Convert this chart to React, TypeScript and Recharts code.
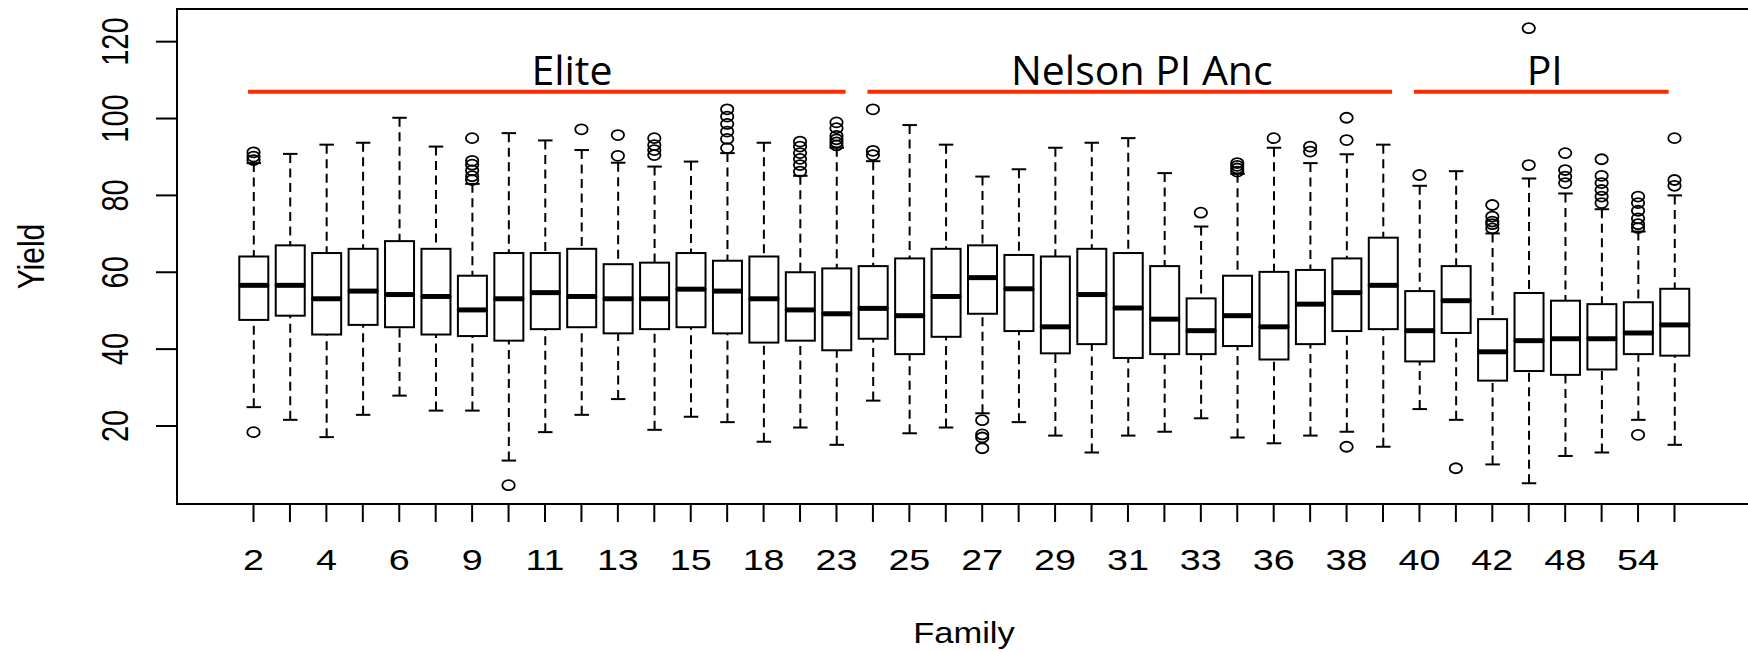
import React from 'react';
import {
  ComposedChart,
  Bar,
  Scatter,
  XAxis,
  YAxis,
  ReferenceLine,
  ReferenceArea,
  ReferenceDot,
  Label,
} from 'recharts';

// ---------- data ----------
const families = [
  '2', '3', '4', '5', '6', '8', '9', '10', '11', '12', '13', '14', '15', '16', '18', '20', '23',
  '24', '25', '26', '27', '28', '29', '30', '31', '32', '33', '35', '36', '37', '38', '39',
  '40', '41', '42', '44', '48', '50', '54', '56',
];

const whiskerLow = [
  24.9, 21.6, 17.1, 22.9, 27.9, 24.0, 24.0, 11.0, 18.4, 22.9, 27.0, 19.0, 22.4, 21.0, 15.9, 19.6, 15.1,
  26.6, 18.1, 19.6, 23.3, 21.0, 17.5, 13.1, 17.5, 18.5, 22.0, 17.0, 15.5, 17.5, 18.5, 14.6,
  24.4, 21.6, 10.0, 5.1, 12.2, 13.1, 21.6, 15.1,
];
const q1 = [
  47.6, 48.7, 43.8, 46.3, 45.7, 43.8, 43.4, 42.2, 45.2, 45.7, 44.1, 45.2, 45.7, 44.1, 41.7, 42.2, 39.7,
  42.7, 38.7, 43.2, 49.2, 44.7, 38.9, 41.3, 37.7, 38.7, 38.7, 40.8, 37.3, 41.3, 44.7, 45.2,
  36.8, 44.2, 31.8, 34.3, 33.3, 34.7, 38.7, 38.3,
];
const median = [
  56.6, 56.6, 53.1, 55.1, 54.2, 53.7, 50.2, 53.1, 54.7, 53.7, 53.1, 53.1, 55.6, 55.1, 53.1, 50.2, 49.2,
  50.6, 48.7, 53.7, 58.6, 55.7, 45.8, 54.2, 50.7, 47.8, 44.8, 48.7, 45.8, 51.7, 54.7, 56.6,
  44.8, 52.6, 39.3, 42.2, 42.7, 42.7, 44.2, 46.3,
];
const q3 = [
  64.1, 67.0, 65.0, 66.1, 68.1, 66.1, 59.1, 65.0, 65.0, 66.1, 62.1, 62.5, 65.0, 63.0, 64.1, 60.0, 61.0,
  61.6, 63.6, 66.1, 67.0, 64.5, 64.1, 66.1, 65.0, 61.6, 53.2, 59.1, 60.1, 60.6, 63.6, 69.0,
  55.1, 61.6, 47.8, 54.6, 52.6, 51.7, 52.2, 55.7,
];
const whiskerHigh = [
  88.4, 90.8, 93.2, 93.7, 100.2, 92.7, 83.0, 96.2, 94.3, 91.8, 88.5, 87.5, 88.8, 91.0, 93.7, 85.1, 92.4,
  88.9, 98.3, 93.2, 84.9, 86.8, 92.4, 93.7, 94.9, 85.8, 71.9, 85.6, 92.4, 88.4, 90.7, 93.2,
  82.5, 86.3, 70.1, 84.4, 80.5, 76.4, 70.6, 80.0,
];
const outliers: number[][] = [
  [18.4, 89.2, 90.1, 91.2],
  [],
  [],
  [],
  [],
  [],
  [84.0, 85.0, 86.5, 88.0, 89.0, 94.9],
  [4.6],
  [],
  [97.2],
  [90.3, 95.7],
  [90.5, 91.8, 93.1, 94.9],
  [],
  [92.3, 94.7, 96.6, 98.6, 100.5, 102.4],
  [],
  [86.2, 87.9, 89.5, 91.0, 92.7, 94.0],
  [93.0, 93.8, 94.6, 95.5, 97.5, 99.0],
  [90.5, 91.6, 102.4],
  [],
  [],
  [21.5, 17.8, 17.0, 14.2],
  [],
  [],
  [],
  [],
  [],
  [75.5],
  [86.2, 87.0, 87.7, 88.4],
  [94.9],
  [91.4, 92.7],
  [14.6, 94.4, 100.2],
  [],
  [85.3],
  [9.0],
  [71.4, 72.5, 73.2, 74.5, 77.5],
  [87.9, 123.5],
  [83.2, 84.9, 86.6, 91.0],
  [78.0, 79.7, 81.4, 83.2, 85.1, 89.4],
  [17.7, 71.5, 72.5, 74.0, 76.0, 78.0, 79.7],
  [82.5, 84.0, 94.9],
];

const yTicks = [20, 40, 60, 80, 100, 120];

const groupNames = ['Elite', 'Nelson PI Anc', 'PI'];
const groupLineStart = [0.85, 17.85, 32.85];
const groupLineEnd = [17.25, 32.25, 39.84];
const groupLabelCenter = [9.74, 25.38, 36.44];
const groupLevel = 107;

// ---------- derived tables ----------
const positions = families.map((_, i) => i + 1);

const boxData = families.map((f, i) => ({
  pos: positions[i],
  family: f,
  base: whiskerLow[i],
  lowW: q1[i] - whiskerLow[i],
  lowBox: median[i] - q1[i],
  upBox: q3[i] - median[i],
  upW: whiskerHigh[i] - q3[i],
}));

const outlierData = outliers.flatMap((arr, i) => arr.map((v) => ({ pos: positions[i], v })));

// ---------- styles ----------
const INK = '#000';
const RED = '#ff2a00';
const DASH = '9 5.5';
const X_DOMAIN: [number, number] = [-1.1, 42.1];
const Y_DOMAIN: [number, number] = [-0.3, 128.5];
const STRETCH = 1.3;

// ---------- shapes ----------
const LowerWhisker = (p: any) => {
  const { x, y, width, height } = p;
  if (height == null) return null;
  const cx = x + width / 2;
  const bottom = y + height;
  return (
    <g>
      <line x1={cx} x2={cx} y1={bottom} y2={y} stroke={INK} strokeWidth={2} strokeDasharray={DASH} />
      <line x1={cx - width / 4} x2={cx + width / 4} y1={bottom} y2={bottom} stroke={INK} strokeWidth={2} />
    </g>
  );
};

const UpperWhisker = (p: any) => {
  const { x, y, width, height } = p;
  if (height == null) return null;
  const cx = x + width / 2;
  return (
    <g>
      <line x1={cx} x2={cx} y1={y} y2={y + height} stroke={INK} strokeWidth={2} strokeDasharray={DASH} />
      <line x1={cx - width / 4} x2={cx + width / 4} y1={y} y2={y} stroke={INK} strokeWidth={2} />
    </g>
  );
};

const LowerBox = (p: any) => {
  const { x, y, width, height } = p;
  if (height == null) return null;
  return <rect x={x} y={y} width={width} height={height} fill="none" stroke={INK} strokeWidth={2} />;
};

const UpperBox = (p: any) => {
  const { x, y, width, height } = p;
  if (height == null) return null;
  const bottom = y + height;
  return (
    <g>
      <rect x={x} y={y} width={width} height={height} fill="none" stroke={INK} strokeWidth={2} />
      <line x1={x} x2={x + width} y1={bottom} y2={bottom} stroke={INK} strokeWidth={5} />
    </g>
  );
};

const Outlier = (p: any) => {
  const { cx, cy } = p;
  if (cx == null || cy == null) return null;
  return <ellipse cx={cx} cy={cy} rx={6.2} ry={5} fill="none" stroke={INK} strokeWidth={1.8} />;
};

// ---------- ticks & labels ----------
const XTick = (p: any) => {
  const { x, y, payload, index } = p;
  if (index % 2 !== 0) return null;
  const label = families[payload.value - 1];
  if (label == null) return null;
  return (
    <text
      transform={`translate(${x},${y + 48}) scale(${STRETCH},1)`}
      textAnchor="middle"
      fontFamily="'Liberation Sans', Arial, sans-serif"
      fontSize={29}
      fill={INK}
    >
      {label}
    </text>
  );
};

const YTick = (p: any) => {
  const { x, y, payload } = p;
  return (
    <text
      transform={`translate(${x - 28},${y}) scale(${STRETCH},1) rotate(-90)`}
      textAnchor="middle"
      fontFamily="'Liberation Sans', Arial, sans-serif"
      fontSize={29}
      fill={INK}
    >
      {payload.value}
    </text>
  );
};

const YieldTitle = (p: any) => {
  const vb = p.viewBox || {};
  const cx = (vb.x ?? 0) + 44;
  const cy = (vb.y ?? 0) + (vb.height ?? 0) / 2;
  return (
    <text
      transform={`translate(${cx},${cy}) scale(1.25,1) rotate(-90)`}
      textAnchor="middle"
      fontFamily="'Liberation Sans', Arial, sans-serif"
      fontSize={30}
      fill={INK}
    >
      Yield
    </text>
  );
};

const FamilyTitle = (p: any) => {
  const vb = p.viewBox || {};
  const cx = (vb.x ?? 0) + (vb.width ?? 0) / 2;
  const by = (vb.y ?? 0) + 139;
  return (
    <text
      transform={`translate(${cx},${by}) scale(1.15,1)`}
      textAnchor="middle"
      fontFamily="'Liberation Sans', Arial, sans-serif"
      fontSize={30}
      fill={INK}
    >
      Family
    </text>
  );
};

const GroupText = (name: string) => (p: any) => {
  const { cx, cy } = p;
  if (cx == null || cy == null) return null;
  return (
    <text
      x={cx}
      y={cy - 7}
      textAnchor="middle"
      fontFamily="'Open Sans', sans-serif"
      fontSize={41}
      fill={INK}
    >
      {name}
    </text>
  );
};

export default function App() {
  return (
    <div
      style={{
        position: 'absolute',
        left: 0,
        top: 0,
        width: 1748,
        height: 652,
        overflow: 'hidden',
        background: '#fff',
      }}
    >
      <ComposedChart
        width={1770}
        height={652}
        data={boxData}
        margin={{ top: 9, right: 19, bottom: 0, left: 0 }}
      >
        <XAxis
          type="number"
          dataKey="pos"
          domain={X_DOMAIN}
          allowDataOverflow
          ticks={positions}
          interval={0}
          tickSize={18}
          tickMargin={0}
          axisLine={false}
          tickLine={{ stroke: INK, strokeWidth: 2 }}
          tick={<XTick />}
          height={148}
        >
          <Label content={<FamilyTitle />} />
        </XAxis>
        <YAxis
          type="number"
          domain={Y_DOMAIN}
          allowDataOverflow
          ticks={yTicks}
          interval={0}
          tickSize={21}
          tickMargin={0}
          axisLine={false}
          tickLine={{ stroke: INK, strokeWidth: 2 }}
          tick={<YTick />}
          width={177}
        >
          <Label content={<YieldTitle />} />
        </YAxis>

        <ReferenceArea
          x1={X_DOMAIN[0]}
          x2={X_DOMAIN[1]}
          y1={Y_DOMAIN[0]}
          y2={Y_DOMAIN[1]}
          fill="none"
          fillOpacity={0}
          stroke={INK}
          strokeWidth={2}
          ifOverflow="visible"
        />

        <Bar dataKey="base" stackId="box" fill="none" barSize={29} isAnimationActive={false} />
        <Bar dataKey="lowW" stackId="box" shape={<LowerWhisker />} barSize={29} isAnimationActive={false} />
        <Bar dataKey="lowBox" stackId="box" shape={<LowerBox />} barSize={29} isAnimationActive={false} />
        <Bar dataKey="upBox" stackId="box" shape={<UpperBox />} barSize={29} isAnimationActive={false} />
        <Bar dataKey="upW" stackId="box" shape={<UpperWhisker />} barSize={29} isAnimationActive={false} />

        <Scatter data={outlierData} dataKey="v" shape={<Outlier />} isAnimationActive={false} />

        {groupNames.map((g, i) => (
          <ReferenceLine
            key={`line-${g}`}
            segment={[
              { x: groupLineStart[i], y: groupLevel },
              { x: groupLineEnd[i], y: groupLevel },
            ]}
            stroke={RED}
            strokeWidth={4}
          />
        ))}
        {groupNames.map((g, i) => (
          <ReferenceDot
            key={`label-${g}`}
            x={groupLabelCenter[i]}
            y={groupLevel}
            r={0}
            shape={GroupText(g)}
          />
        ))}
      </ComposedChart>
    </div>
  );
}
